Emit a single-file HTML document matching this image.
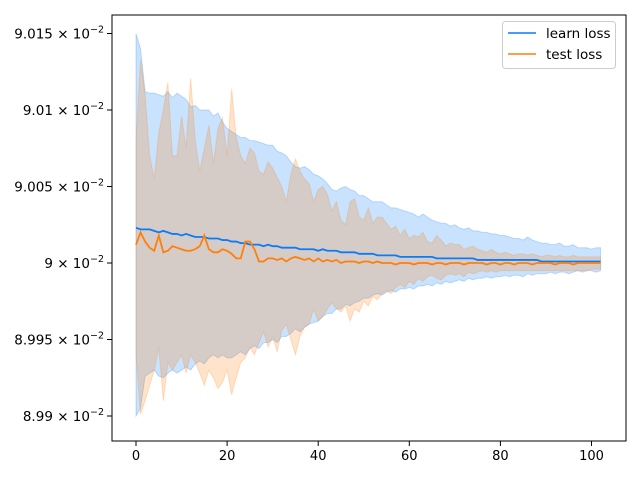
<!DOCTYPE html>
<html><head><meta charset="utf-8"><style>
body{margin:0;background:#fff;}
svg{display:block;font-family:"DejaVu Sans","Liberation Sans",sans-serif;}
</style></head><body>
<svg id="chart" width="640" height="480" viewBox="0 0 640 480" xmlns="http://www.w3.org/2000/svg">
<rect x="0" y="0" width="640" height="480" fill="#fff"/>
<g id="bands"></g><g id="lines"></g><g id="axes"></g>
<g>
<rect x="502.5" y="21.5" width="113" height="47" rx="3" fill="#fff" fill-opacity="0.8" stroke="#ccc"/>
<line x1="508" y1="33" x2="536" y2="33" stroke="#0a7cf8" stroke-width="1.6"/>
<text x="546" y="38" font-size="13.5" fill="#000">learn loss</text>
<line x1="508" y1="54" x2="536" y2="54" stroke="#ff7f0e" stroke-width="1.6"/>
<text x="546" y="59" font-size="13.5" fill="#000">test loss</text>
</g>
</svg>
<script>
// values are offsets from 0.09 in units of 1e-6
const BASE = 0.09;
const learnMean = [23,22,22,22,21,20,21,20,19,19,18,19,18,17,17,17,16,16,16,15,15,14,14,13,13,12,12,12,11,12,11,11,10,10,10,10,9,9,9,9,8,9,8,8,8,7,7,7,7,6,6,6,6,5,5,5,5,5,4,4,4,4,4,4,4,4,3,3,3,3,3,3,3,3,3,2,2,2,2,2,2,2,2,2,2,2,2,2,2,1,1,1,1,1,1,1,1,1,1,1,1,1,1];
const testMean = [12,20,14,10,8,18,7,8,11,10,9,8,8,9,11,18,9,7,7,9,8,6,3,3,14,14,9,1,1,3,3,2,3,1,3,4,3,2,3,1,3,1,2,1,2,0,1,1,1,0,1,1,0,1,0,0,0,-1,0,0,0,-1,0,0,0,-1,0,0,-1,0,0,0,-1,0,0,0,0,-1,0,0,-1,0,0,-1,0,0,0,-1,0,0,0,0,-1,0,0,0,-1,0,0,0,0,0,0];
const learnUpper = [150,140,112,111,111,110,109,112,108,111,109,107,102,103,100,100,100,96,98,92,88,86,84,82,82,80,80,79,78,77,77,73,72,70,66,63,62,63,61,58,57,55,52,48,47,49,50,48,47,44,44,42,40,40,40,38,36,36,35,34,33,32,30,32,30,28,27,26,26,24,25,23,22,23,21,21,20,20,19,19,18,18,17,16,16,15,17,15,14,13,13,12,12,13,11,11,12,10,10,10,9,10,10];
const learnLower = [-100,-95,-74,-72,-70,-74,-75,-72,-70,-72,-70,-68,-70,-66,-64,-66,-62,-60,-62,-60,-62,-62,-60,-58,-60,-56,-54,-56,-52,-52,-50,-52,-48,-48,-46,-43,-45,-42,-40,-39,-38,-35,-33,-33,-30,-30,-27,-28,-26,-25,-23,-23,-21,-20,-21,-19,-18,-19,-17,-17,-16,-17,-15,-15,-14,-15,-13,-14,-12,-13,-12,-11,-12,-10,-11,-10,-10,-9,-10,-9,-9,-8,-9,-8,-8,-9,-7,-8,-7,-7,-7,-6,-7,-6,-6,-7,-6,-5,-6,-5,-5,-6,-5];
const testUpper = [80,133,110,70,55,85,100,118,70,70,96,75,121,80,60,75,90,65,88,95,70,114,82,70,65,75,72,60,58,66,62,56,50,40,58,68,60,55,52,40,48,50,45,34,40,28,25,40,42,30,28,36,26,30,30,26,22,24,18,22,16,18,17,20,14,13,18,15,11,13,12,12,9,10,11,9,8,7,9,7,6,7,6,5,6,6,5,6,5,4,5,5,4,5,4,4,5,4,4,4,4,4,4];
const testLower = [-60,-99,-90,-80,-70,-55,-90,-65,-70,-65,-60,-72,-60,-65,-72,-80,-70,-75,-82,-78,-70,-86,-75,-65,-62,-55,-60,-52,-45,-55,-48,-58,-44,-40,-50,-60,-48,-42,-40,-30,-38,-35,-30,-26,-30,-32,-28,-38,-30,-32,-25,-28,-22,-24,-20,-18,-20,-16,-14,-16,-12,-14,-10,-12,-9,-8,-10,-11,-8,-7,-8,-7,-9,-6,-7,-6,-5,-6,-5,-6,-5,-5,-5,-5,-5,-5,-5,-5,-5,-5,-5,-5,-5,-5,-5,-5,-5,-5,-5,-5,-4,-4,-4];
const xTicks = [0,20,40,60,80,100];
const yTicks = [8.99e-2,8.995e-2,9e-2,9.005e-2,9.01e-2,9.015e-2];
const yTickLabels = ["8.99","8.995","9","9.005","9.01","9.015"];

const NS="http://www.w3.org/2000/svg";
const X0=112,X1=626,Y0=15,Y1=441;
function xs(i){return 136+i*4.555;}
function yv(v){return 263-(v-BASE)/5e-5*76.5;}
function ys(d){return yv(BASE+d*1e-6);}
function mk(tag,attrs,parent){const e=document.createElementNS(NS,tag);for(const k in attrs)e.setAttribute(k,attrs[k]);parent.appendChild(e);return e;}
function band(up,lo){
  let d="M"+up.map((v,i)=>xs(i).toFixed(2)+","+ys(v).toFixed(2)).join("L");
  for(let i=lo.length-1;i>=0;i--)d+="L"+xs(i).toFixed(2)+","+ys(lo[i]).toFixed(2);
  return d+"Z";
}
const bands=document.getElementById('bands');
const b1=mk('path',{d:band(learnUpper,learnLower),fill:'#0a7cf8','fill-opacity':0.22,stroke:'#0a7cf8','stroke-opacity':0.22},bands);


const b2=mk('path',{d:band(testUpper,testLower),fill:'#ff7f0e','fill-opacity':0.22,stroke:'#ff7f0e','stroke-opacity':0.22},bands);


const lines=document.getElementById('lines');
const l1=mk('polyline',{points:learnMean.map((v,i)=>xs(i).toFixed(2)+","+ys(v).toFixed(2)).join(" "),fill:'none',stroke:'#0a7cf8','stroke-width':1.8},lines);


const l2=mk('polyline',{points:testMean.map((v,i)=>xs(i).toFixed(2)+","+ys(v).toFixed(2)).join(" "),fill:'none',stroke:'#ff7f0e','stroke-width':1.8},lines);


const axes=document.getElementById('axes');
const fr=mk('rect',{x:X0,y:Y0,width:X1-X0,height:Y1-Y0,fill:'none',stroke:'#000','stroke-width':1},axes);


xTicks.forEach(t=>{
  const x=xs(t);
  mk('line',{x1:x,y1:Y1,x2:x,y2:Y1+5,stroke:'#000'},axes);
  const tx=mk('text',{x:x,y:Y1+19,'font-size':13,'text-anchor':'middle'},axes);
  tx.textContent=t;
  
  
});
yTicks.forEach((t,i)=>{
  const y=yv(t);
  mk('line',{x1:X0-5,y1:y,x2:X0,y2:y,stroke:'#000'},axes);
  const tx=mk('text',{x:X0-8,y:y+5,'font-size':13.5,'text-anchor':'end'},axes);
  
  
  tx.appendChild(document.createTextNode(yTickLabels[i]+" \u00d7 10"));
  const sp=document.createElementNS(NS,'tspan');
  sp.setAttribute('dy','-6');sp.setAttribute('font-size','9.5');
  sp.textContent="\u22122";
  tx.appendChild(sp);
});
</script>
</body></html>
